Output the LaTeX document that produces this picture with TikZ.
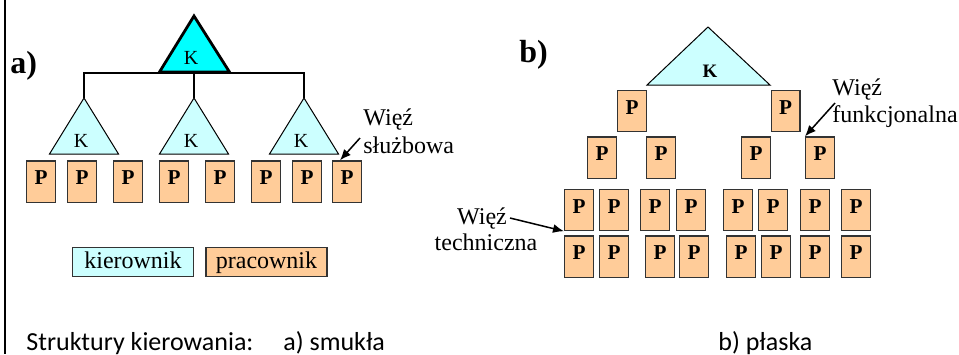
\documentclass[tikz,border=0pt]{standalone}
\usepackage{fontspec}
\setmainfont{Liberation Serif}
\newfontfamily\capfont{Carlito}
\usetikzlibrary{arrows.meta,calc}
\definecolor{boss}{HTML}{00FFFF}
\definecolor{bosslight}{HTML}{CCFFFF}
\definecolor{worker}{HTML}{FFCC99}
\definecolor{edgegray}{HTML}{333333}

\begin{document}
\begin{tikzpicture}[x=0.5pt,y=-0.5pt,
  pbox/.style={draw=edgegray,line width=0.6pt,fill=worker,
    minimum width=14.4pt,minimum height=20.6pt,inner sep=0pt,
    text depth=3.5pt,font=\bfseries\fontsize{10.6}{12}\selectfont},
  legbox/.style={draw=edgegray,line width=0.6pt,minimum width=60.5pt,
    minimum height=14.6pt,inner sep=0pt,text height=8.5pt,text depth=2.5pt,
    font=\fontsize{12}{14}\selectfont},
  klabel/.style={anchor=base,inner sep=0pt,font=\fontsize{10}{12}\selectfont},
  lbl/.style={anchor=base west,inner sep=0pt,font=\fontsize{12}{14}\selectfont},
  tag/.style={anchor=base west,inner sep=0pt,font=\bfseries\fontsize{16}{18}\selectfont},
  captext/.style={anchor=base west,inner sep=0pt,font=\capfont\fontsize{13}{15}\selectfont},
  conn/.style={draw=black,line width=0.55pt},
  arrowc/.style={draw=black,line width=0.75pt,-{Latex[length=5.5pt,width=4.5pt]}},
  tri/.style={fill=bosslight,draw=black,line width=0.5pt,line join=miter}]

\useasboundingbox (0,0) rectangle (959,354);

% left frame line
\draw[line width=1.25pt] (5,0) -- (5,354);

% ---------- a) tall structure ----------
\node[tag] (taga) at (10,73) {a)};

\coordinate (a0b) at (194,73);
\foreach \n/\x in {1/84,2/194,3/304}{
  \coordinate (a\n t) at (\x,98);
}
% links from the head to the three managers
\draw[conn] (a0b) -| (a1t);
\draw[conn] (a0b) -- (a2t);
\draw[conn] (a0b) -| (a3t);

% head triangle
\filldraw[fill=boss,draw=black,line width=1.4pt,line join=miter]
  (194,16) -- (229.5,72) -- (159.5,72) -- cycle;
\node[klabel] (a0) at (191,64) {K};

% managers
\foreach \n/\x in {1/84,2/194,3/304}{
  \filldraw[tri] (\x,98) -- (\x+34.5,154) -- (\x-34.5,154) -- cycle;
  \node[klabel] (a\n) at (\x-3,147) {K};
}

% workers
\foreach \x [count=\i] in {41,82,128,174,220,266,307,347}
  \node[pbox] (p\i) at (\x,181.5) {P};

\node[lbl] (sl1) at (363,125) {Więź};
\node[lbl] (sl2) at (363,153) {służbowa};
\coordinate (slfrom) at (360,138);
\draw[arrowc] (slfrom) -- ($(p8.north west)+(8,0)$);

% legend
\node[legbox,fill=bosslight] (legk) at (133,262) {kierownik};
\node[legbox,fill=worker] (legp) at (266.5,262) {pracownik};

% ---------- b) flat structure ----------
\node[tag] (tagb) at (519,62) {b)};

\filldraw[tri] (708,27) -- (770,85) -- (647,85) -- cycle;
\node[klabel,font=\bfseries\fontsize{9.5}{11}\selectfont] (b0) at (710,77) {K};

\foreach \x [count=\i] in {632,785.5}
  \node[pbox] (b1\i) at (\x,111) {P};
\foreach \x [count=\i] in {602,661,756,820}
  \node[pbox] (b2\i) at (\x,157.5) {P};
\foreach \x [count=\i] in {579,614,655,691,738,773,815,856}
  \node[pbox] (b3\i) at (\x,210) {P};
\foreach \x [count=\i] in {579,614,660,694,741,776,815,856}
  \node[pbox] (b4\i) at (\x,256.5) {P};

\node[lbl] (fn1) at (832,95) {Więź};
\node[lbl] (fn2) at (832,122) {funkcjonalna};
\coordinate (fnfrom) at (835,103);
\draw[arrowc] (fnfrom) -- (b24.north west);

\node[lbl,anchor=base] (tc1) at (482,224) {Więź};
\node[lbl,anchor=base] (tc2) at (486,250) {techniczna};
\coordinate (tcfrom) at (510,218);
\draw[arrowc] (tcfrom) -- (b31.south west);

% caption
\node[captext] (capt) at (26,350) {Struktury kierowania:};
\node[captext] (capa) at (283,350) {a) smukła};
\node[captext] (capb) at (718,350) {b) płaska};

\end{tikzpicture}
\end{document}
